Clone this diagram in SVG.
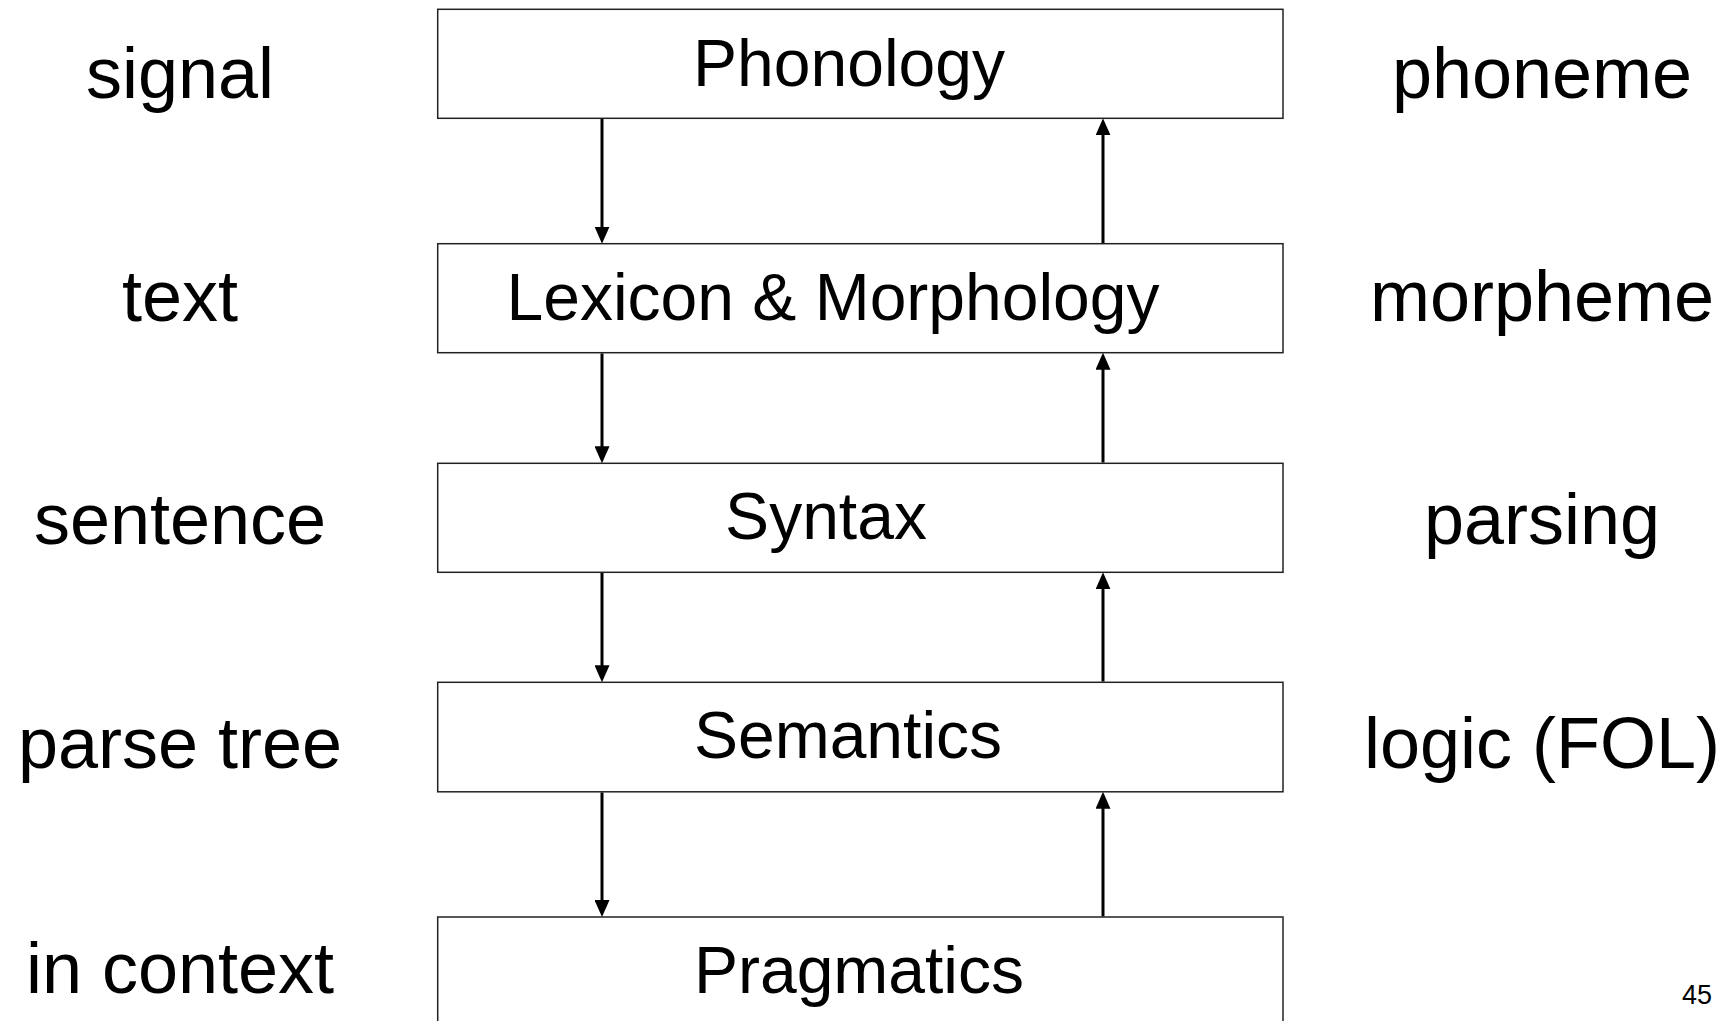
<svg xmlns="http://www.w3.org/2000/svg" width="1733" height="1021" viewBox="0 0 1733 1021">
<defs>
<style>
.box{fill:#fff;stroke:#222;stroke-width:1.5}
.bt{font-family:"Liberation Sans",Arial,sans-serif;font-size:66px;fill:#000;text-anchor:middle}
.side{font-family:"Liberation Sans",Arial,sans-serif;font-size:72px;fill:#000;text-anchor:middle}
.conn{stroke:#000;stroke-width:3;fill:none}
.pg{font-family:"Liberation Sans",Arial,sans-serif;font-size:27px;fill:#000}
</style>
<marker id="ah" viewBox="0 0 17 15" refX="1" refY="7.5" markerWidth="17" markerHeight="15" markerUnits="userSpaceOnUse" orient="auto">
<path d="M0,0 L17,7.5 L0,15 Z" fill="#000"/>
</marker>
</defs>
<rect width="1733" height="1021" fill="#fff"/>
<g id="labels-left">
<text class="side" x="180" y="98">signal</text>
<text class="side" x="180" y="321">text</text>
<text class="side" x="180" y="544">sentence</text>
<text class="side" x="180" y="768">parse tree</text>
<text class="side" x="180" y="993">in context</text>
</g>
<g id="labels-right">
<text class="side" x="1542" y="98">phoneme</text>
<text class="side" x="1542" y="321">morpheme</text>
<text class="side" x="1542" y="544">parsing</text>
<text class="side" x="1542" y="768">logic (FOL)</text>
</g>
<g id="phonology">
<rect class="box" x="437.7" y="9.3" width="845.3" height="109"/>
<text class="bt" x="849" y="86">Phonology</text>
</g>
<g id="lexicon">
<rect class="box" x="437.7" y="243.7" width="845.3" height="109"/>
<text class="bt" x="833" y="320">Lexicon &amp; Morphology</text>
</g>
<g id="syntax">
<rect class="box" x="437.7" y="463.3" width="845.3" height="109"/>
<text class="bt" x="826" y="539">Syntax</text>
</g>
<g id="semantics">
<rect class="box" x="437.7" y="682.3" width="845.3" height="109.5"/>
<text class="bt" x="848" y="758">Semantics</text>
</g>
<g id="pragmatics">
<rect class="box" x="437.7" y="917" width="845.3" height="120"/>
<text class="bt" x="859" y="992.5">Pragmatics</text>
</g>
<g id="connectors">
<line class="conn" x1="602" y1="119" x2="602" y2="227.7" marker-end="url(#ah)"/>
<line class="conn" x1="1103" y1="243" x2="1103" y2="134.3" marker-end="url(#ah)"/>
<line class="conn" x1="602" y1="353.5" x2="602" y2="447.3" marker-end="url(#ah)"/>
<line class="conn" x1="1103" y1="462.5" x2="1103" y2="368.7" marker-end="url(#ah)"/>
<line class="conn" x1="602" y1="573" x2="602" y2="666.3" marker-end="url(#ah)"/>
<line class="conn" x1="1103" y1="681.5" x2="1103" y2="588.3" marker-end="url(#ah)"/>
<line class="conn" x1="602" y1="792.5" x2="602" y2="901" marker-end="url(#ah)"/>
<line class="conn" x1="1103" y1="916.3" x2="1103" y2="807.8" marker-end="url(#ah)"/>
</g>
<text class="pg" x="1682" y="1004">45</text>
</svg>
